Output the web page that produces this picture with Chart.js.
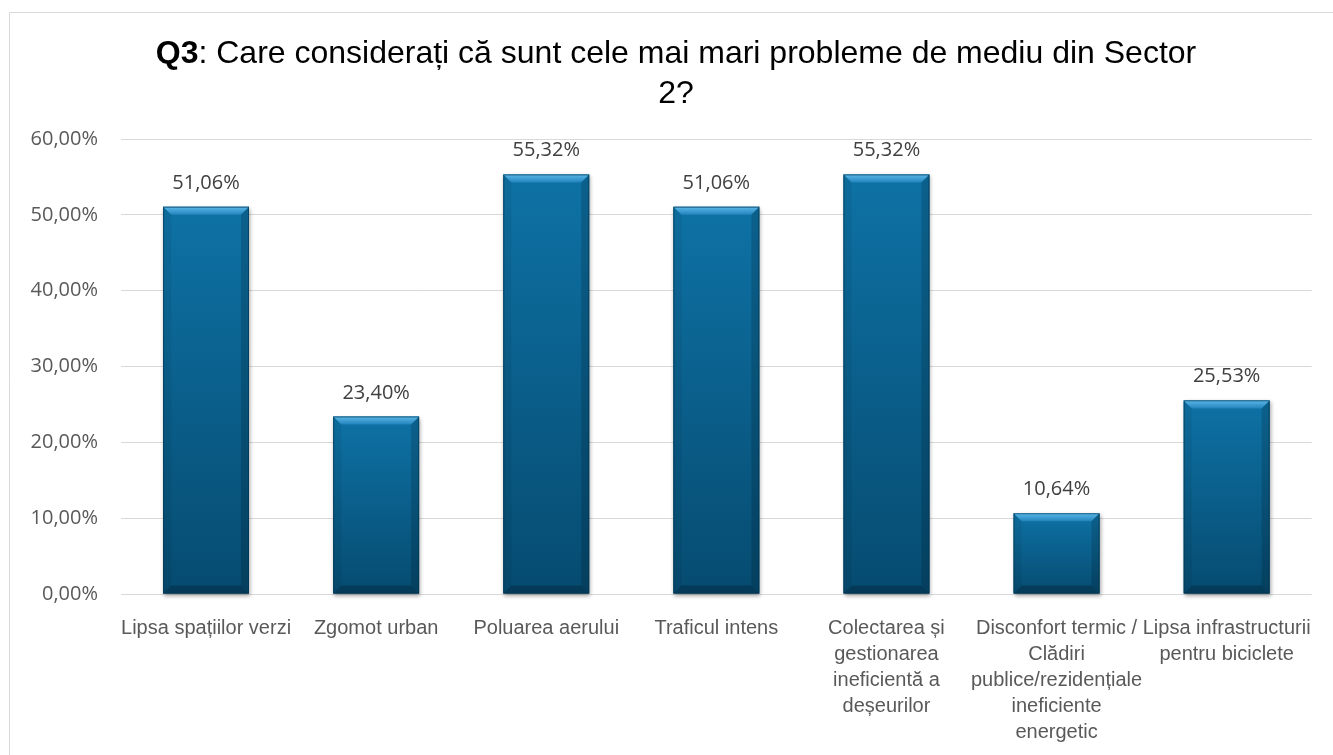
<!DOCTYPE html>
<html>
<head>
<meta charset="utf-8">
<script src="https://cdn.jsdelivr.net/npm/chart.js@4.4.1/dist/chart.umd.min.js"></script>
<style>
html,body{margin:0;padding:0;background:#fff;overflow:hidden}
#wrap{position:relative;width:1333px;height:755px}
</style>
</head>
<body>
<div id="wrap"><canvas id="c" width="1333" height="755"></canvas></div>
<script>
const titleBold = "Q3";
const titleRest = ": Care considerați că sunt cele mai mari probleme de mediu din Sector";
const titleLine2 = "2?";

const categories = [
  "Lipsa spațiilor verzi",
  "Zgomot urban",
  "Poluarea aerului",
  "Traficul intens",
  ["Colectarea și", "gestionarea", "ineficientă a", "deșeurilor"],
  ["Disconfort termic /", "Clădiri", "publice/rezidențiale", "ineficiente", "energetic"],
  ["Lipsa infrastructurii", "pentru biciclete"]
];
const values = [51.06, 23.40, 55.32, 51.06, 55.32, 10.64, 25.53];
const yMin = 0, yMax = 60, yStep = 10;

const fmt = v => Number(v).toFixed(2).replace('.', ',') + '%';

const framePlugin = {
  id: 'frame',
  beforeDraw(chart) {
    const ctx = chart.ctx;
    ctx.save();
    ctx.strokeStyle = '#D9D9D9';
    ctx.lineWidth = 1;
    ctx.beginPath();
    ctx.moveTo(9.5, 755);
    ctx.lineTo(9.5, 12.5);
    ctx.lineTo(1333, 12.5);
    ctx.stroke();
    ctx.restore();
  }
};

const titlePlugin = {
  id: 'mixedTitle',
  afterDraw(chart) {
    const ctx = chart.ctx;
    ctx.save();
    const cx = 676;
    const boldFont = 'bold 32px "Liberation Sans", Arial, sans-serif';
    const normFont = '32px "Liberation Sans", Arial, sans-serif';
    ctx.font = boldFont;
    const wb = ctx.measureText(titleBold).width;
    ctx.font = normFont;
    const wr = ctx.measureText(titleRest).width;
    let x = cx - (wb + wr) / 2;
    ctx.fillStyle = '#000';
    ctx.textBaseline = 'alphabetic';
    ctx.textAlign = 'left';
    ctx.font = boldFont;
    ctx.fillText(titleBold, x, 63);
    ctx.font = normFont;
    ctx.fillText(titleRest, x + wb, 63);
    ctx.textAlign = 'center';
    ctx.fillText(titleLine2, cx, 103);
    ctx.restore();
  }
};

function poly(ctx, pts, fill) {
  ctx.beginPath();
  ctx.moveTo(pts[0], pts[1]);
  for (let i = 2; i < pts.length; i += 2) ctx.lineTo(pts[i], pts[i + 1]);
  ctx.closePath();
  ctx.fillStyle = fill;
  ctx.fill();
}

const bevelPlugin = {
  id: 'bevel',
  afterDatasetsDraw(chart) {
    const ctx = chart.ctx;
    const meta = chart.getDatasetMeta(0);
    meta.data.forEach((bar) => {
      const l = bar.x - bar.width / 2, r = bar.x + bar.width / 2;
      const t = bar.y, b = bar.base;
      const w = r - l, h = b - t;
      const bv = Math.min(8, h / 2);
      ctx.save();
      ctx.shadowColor = 'rgba(0,0,0,0.35)';
      ctx.shadowBlur = 4;
      ctx.shadowOffsetX = 1;
      ctx.shadowOffsetY = 2;
      const g = ctx.createLinearGradient(0, t, 0, b);
      g.addColorStop(0, '#0E72A5');
      g.addColorStop(1, '#064B70');
      ctx.fillStyle = g;
      ctx.fillRect(l, t, w, h);
      ctx.restore();
      ctx.save();
      const gt = ctx.createLinearGradient(0, t, 0, t + bv);
      gt.addColorStop(0, '#5DB8E8');
      gt.addColorStop(1, '#2283BC');
      poly(ctx, [l, t, r, t, r - bv, t + bv, l + bv, t + bv], gt);
      poly(ctx, [l, t, l + bv, t + bv, l + bv, b - bv, l, b], 'rgba(0,0,0,0.06)');
      poly(ctx, [r, t, r - bv, t + bv, r - bv, b - bv, r, b], 'rgba(0,0,0,0.15)');
      poly(ctx, [l, b, l + bv, b - bv, r - bv, b - bv, r, b], 'rgba(0,0,0,0.22)');
      ctx.strokeStyle = 'rgba(4,50,75,0.6)';
      ctx.lineWidth = 1;
      ctx.strokeRect(l + 0.5, t + 0.5, w - 1, h - 1);
      ctx.restore();
    });
  }
};

const labelPlugin = {
  id: 'valueLabels',
  afterDatasetsDraw(chart) {
    const ctx = chart.ctx;
    const meta = chart.getDatasetMeta(0);
    ctx.save();
    ctx.font = '20px "Open Sans", sans-serif';
    ctx.fillStyle = '#404040';
    ctx.textAlign = 'center';
    ctx.textBaseline = 'alphabetic';
    meta.data.forEach((bar, i) => {
      ctx.fillText(fmt(chart.data.datasets[0].data[i]), bar.x, bar.y - 18);
    });
    ctx.restore();
  }
};

new Chart(document.getElementById('c'), {
  type: 'bar',
  data: {
    labels: categories,
    datasets: [{
      data: values,
      backgroundColor: '#0A6494',
      borderWidth: 0,
      barPercentage: 0.505,
      categoryPercentage: 1.0
    }]
  },
  options: {
    responsive: false,
    animation: false,
    layout: { padding: { top: 139, right: 20, left: 0, bottom: 0 } },
    plugins: {
      legend: { display: false },
      title: { display: false },
      tooltip: { enabled: false }
    },
    scales: {
      x: {
        grid: { display: false, drawTicks: false },
        border: { display: false },
        ticks: {
          color: '#595959',
          font: { family: '"Liberation Sans", Arial, sans-serif', size: 20, lineHeight: 1.3 },
          padding: 21,
          maxRotation: 0,
          minRotation: 0,
          autoSkip: false
        },
        afterFit(scale) { scale.height = 161; }
      },
      y: {
        min: yMin,
        max: yMax,
        grid: { color: '#D9D9D9', lineWidth: 1, drawTicks: false },
        border: { display: false },
        ticks: {
          stepSize: yStep,
          color: '#595959',
          font: { family: '"Open Sans", sans-serif', size: 20 },
          padding: 23,
          callback: v => fmt(v)
        },
        afterFit(scale) { scale.width = 121; }
      }
    }
  },
  plugins: [framePlugin, titlePlugin, bevelPlugin, labelPlugin]
});
</script>
</body>
</html>
